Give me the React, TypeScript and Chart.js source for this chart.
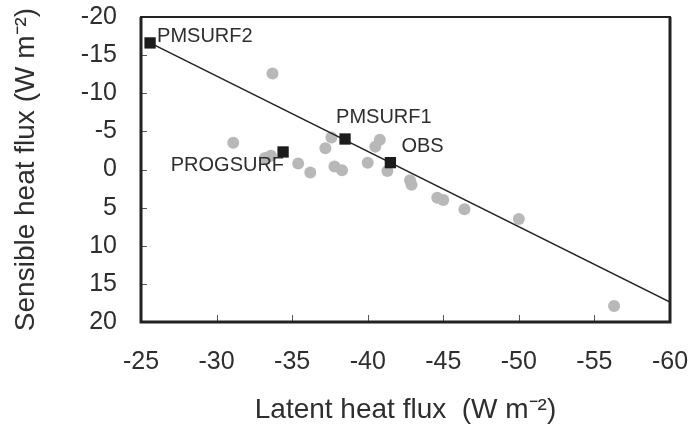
import React, { useEffect, useRef } from "react";
import { Chart, registerables } from "chart.js";

Chart.register(...registerables);

// Gray circles: individual runs
const grayLatent = [-31.1, -33.7, -33.2, -33.6, -35.4, -36.2, -37.6, -37.2, -37.8, -38.3, -40.0, -40.5, -40.8, -41.3, -42.8, -42.9, -44.6, -45.0, -46.4, -50.0, -56.3];
const graySensible = [-3.5, -12.6, -1.5, -1.8, -0.8, 0.4, -4.2, -2.8, -0.4, 0.1, -0.9, -3.0, -3.9, 0.2, 1.4, 2.0, 3.7, 4.0, 5.2, 6.5, 17.9];

// Labelled black squares
const modelNames = ["PMSURF2", "PMSURF1", "OBS", "PROGSURF"];
const modelLatent = [-25.6, -38.5, -41.5, -34.4];
const modelSensible = [-16.6, -4.0, -0.9, -2.3];

// Fitted line
const lineLatent = [-25.6, -60];
const lineSensible = [-16.6, 17.4];

// Axis ticks
const xMin = -60;
const xMax = -25;
const yMin = -20;
const yMax = 20;
const tickStep = 5;

const FONT = "'Liberation Sans', Arial, Helvetica, sans-serif";
const TEXT = "#2e2e2e";

// label offsets (px) relative to each square
const labelOffsets: [number, number, CanvasTextAlign][] = [
  [7, -6, "left"],
  [-9, -22, "left"],
  [11, -16, "left"],
  [1, 14, "right"],
];

const framePlugin = {
  id: "frameAndLabels",
  afterDatasetsDraw(chart: any) {
    const { ctx, chartArea, scales } = chart;
    const { left, right, top, bottom } = chartArea;
    ctx.save();
    // inward ticks
    ctx.strokeStyle = "#555";
    ctx.lineWidth = 1;
    const xs = scales.x;
    xs.ticks.forEach((_t: any, i: number) => {
      const px = Math.round(xs.getPixelForTick(i)) + 0.5;
      ctx.beginPath();
      ctx.moveTo(px, bottom);
      ctx.lineTo(px, bottom - 7);
      ctx.stroke();
    });
    const ys = scales.y;
    ys.ticks.forEach((_t: any, i: number) => {
      const py = Math.round(ys.getPixelForTick(i)) + 0.5;
      ctx.beginPath();
      ctx.moveTo(left, py);
      ctx.lineTo(left + 6, py);
      ctx.stroke();
    });
    // frame
    ctx.strokeStyle = "#222";
    ctx.lineWidth = 3;
    ctx.beginPath();
    ctx.moveTo(left, top);
    ctx.lineTo(left, bottom);
    ctx.lineTo(right, bottom);
    ctx.lineTo(right, top);
    ctx.stroke();
    ctx.lineWidth = 2;
    ctx.beginPath();
    ctx.moveTo(left - 1, top);
    ctx.lineTo(right + 1, top);
    ctx.stroke();
    // point labels
    const meta = chart.getDatasetMeta(0);
    ctx.fillStyle = TEXT;
    ctx.font = `20px ${FONT}`;
    ctx.textBaseline = "middle";
    meta.data.forEach((pt: any, i: number) => {
      const [dx, dy, align] = labelOffsets[i];
      ctx.textAlign = align;
      ctx.fillText(modelNames[i], pt.x + dx, pt.y + dy);
    });
    ctx.restore();
  },
};

const zeroPad = (s: any) => {
  s.paddingTop = 0;
  s.paddingBottom = 0;
  s.paddingLeft = 0;
  s.paddingRight = 0;
};

export default function App() {
  const ref = useRef<HTMLCanvasElement | null>(null);
  useEffect(() => {
    if (!ref.current) return;
    const chart = new Chart(ref.current, {
      type: "scatter",
      data: {
        datasets: [
          {
            label: "models",
            data: modelLatent.map((x, i) => ({ x, y: modelSensible[i] })),
            pointStyle: "rect",
            pointRadius: 8,
            backgroundColor: "#1c1c1c",
            borderWidth: 0,
          },
          {
            label: "fit",
            data: lineLatent.map((x, i) => ({ x, y: lineSensible[i] })),
            showLine: true,
            pointRadius: 0,
            borderColor: "#222",
            borderWidth: 1.5,
          },
          {
            label: "runs",
            data: grayLatent.map((x, i) => ({ x, y: graySensible[i] })),
            pointRadius: 6,
            backgroundColor: "#b8b8b8",
            borderWidth: 0,
          },
        ],
      },
      options: {
        animation: false,
        responsive: false,
        devicePixelRatio: 1,
        layout: { padding: { top: 17, right: 25, left: 0, bottom: 0 } },
        plugins: { legend: { display: false }, tooltip: { enabled: false } },
        scales: {
          x: {
            type: "linear",
            min: xMin,
            max: xMax,
            reverse: true,
            grid: { display: false, drawTicks: false },
            border: { display: false },
            ticks: {
              stepSize: tickStep,
              padding: 25,
              color: TEXT,
              font: { family: FONT, size: 25 },
              callback: (v: any) => String(v),
            },
            title: {
              display: true,
              text: "Latent heat flux  (W m\u207B\u00B2)",
              color: TEXT,
              font: { family: FONT, size: 28 },
              padding: { top: 0, bottom: 2 },
            },
            afterFit: (s: any) => {
              s.height = 107;
              zeroPad(s);
            },
          },
          y: {
            type: "linear",
            min: yMin,
            max: yMax,
            reverse: true,
            grid: { display: false, drawTicks: false },
            border: { display: false },
            ticks: {
              stepSize: tickStep,
              padding: 24,
              color: TEXT,
              font: { family: FONT, size: 25 },
              callback: (v: any) => String(v),
            },
            title: {
              display: true,
              text: "Sensible heat flux (W m\u207B\u00B2)",
              color: TEXT,
              font: { family: FONT, size: 28 },
              padding: { top: 9, bottom: 0 },
            },
            afterFit: (s: any) => {
              s.width = 141;
              zeroPad(s);
            },
          },
        },
      },
      plugins: [framePlugin],
    });
    return () => chart.destroy();
  }, []);
  return (
    <div style={{ position: "fixed", left: 0, top: 0, width: 695, height: 429, background: "#fff" }}>
      <canvas ref={ref} width={695} height={429} style={{ display: "block" }} />
    </div>
  );
}
